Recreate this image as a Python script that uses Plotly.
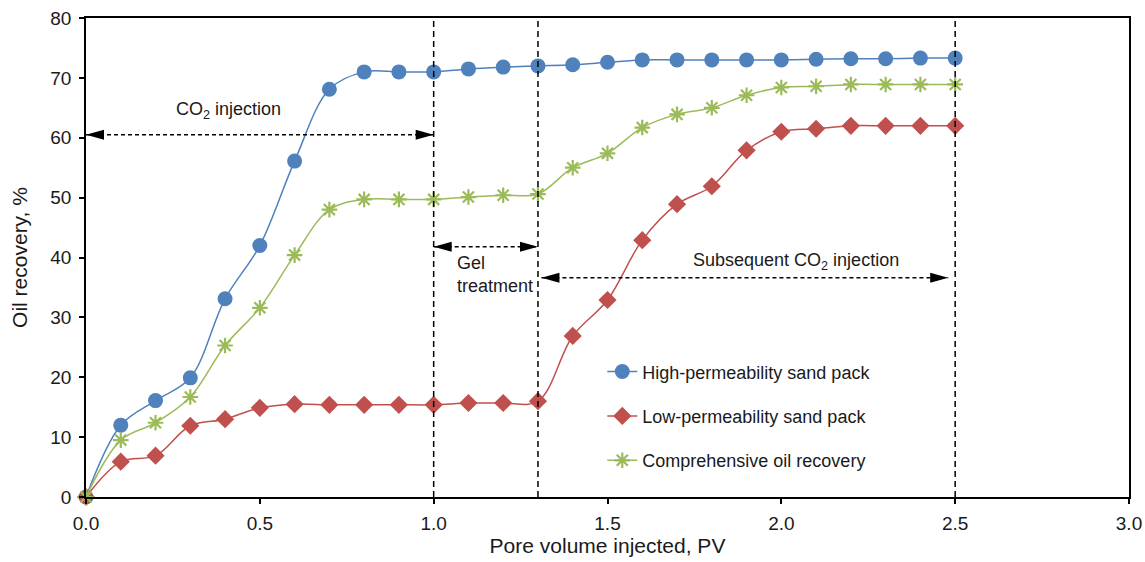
import plotly.graph_objects as go

# ---- data ----
pv = [0.0, 0.1, 0.2, 0.3, 0.4, 0.5, 0.6, 0.7, 0.8, 0.9, 1.0, 1.1, 1.2,
      1.3, 1.4, 1.5, 1.6, 1.7, 1.8, 1.9, 2.0, 2.1, 2.2, 2.3, 2.4, 2.5]
high_perm = [0, 12.0, 16.1, 19.9, 33.1, 42.0, 56.1, 68.1, 71.0, 71.0, 71.0, 71.5, 71.8,
             72.0, 72.2, 72.6, 73.0, 73.0, 73.0, 73.0, 73.0, 73.1, 73.2, 73.2, 73.3, 73.3]
low_perm = [0, 5.9, 6.9, 11.9, 13.0, 14.9, 15.5, 15.4, 15.4, 15.4, 15.4, 15.7, 15.7,
            16.0, 26.9, 32.9, 42.9, 48.9, 51.9, 57.9, 61.0, 61.5, 62.0, 62.0, 62.0, 62.0]
comprehensive = [0, 9.5, 12.4, 16.7, 25.3, 31.6, 40.4, 48.0, 49.7, 49.7, 49.7, 50.1, 50.4,
                 50.6, 55.0, 57.4, 61.7, 63.9, 65.0, 67.1, 68.4, 68.6, 68.9, 68.9, 68.9, 68.9]
series_names = ["High-permeability sand pack", "Low-permeability sand pack",
                "Comprehensive oil recovery"]
x_ticks = [0.0, 0.5, 1.0, 1.5, 2.0, 2.5, 3.0]
y_ticks = [0, 10, 20, 30, 40, 50, 60, 70, 80]

# stage boundaries (PV)
stage_bounds = [1.0, 1.3, 2.5]

FONT = "Liberation Sans, Arial, sans-serif"
TXT = "#1a1a1a"
BLUE, RED, GREEN = "#4F81BD", "#C0504D", "#9BBB59"

fig = go.Figure()
fig.add_trace(go.Scatter(x=pv, y=high_perm, name=series_names[0], mode="lines+markers",
                         line=dict(color=BLUE, width=1.5, shape="spline", smoothing=1),
                         marker=dict(symbol="circle", size=15, color=BLUE),
                         cliponaxis=False, legendgroup="a"))
fig.add_trace(go.Scatter(x=pv, y=low_perm, name=series_names[1], mode="lines+markers",
                         line=dict(color=RED, width=1.5, shape="spline", smoothing=1),
                         marker=dict(symbol="diamond", size=14, color=RED),
                         cliponaxis=False, legendgroup="b"))
fig.add_trace(go.Scatter(x=pv, y=comprehensive, name=series_names[2], mode="lines+markers",
                         line=dict(color=GREEN, width=1.5, shape="spline", smoothing=1),
                         marker=dict(symbol="asterisk-open", size=13,
                                     line=dict(color=GREEN, width=2.2)),
                         cliponaxis=False, legendgroup="c"))

shapes = []
# vertical dashed stage lines
for xb in stage_bounds:
    shapes.append(dict(type="line", xref="x", yref="y", x0=xb, x1=xb, y0=0, y1=79.6,
                       line=dict(color="black", width=1.5, dash="6px,4px")))

# dashed double arrows: (x_start, x_end, y)
arrows = [
    (0.0, 1.0, 60.5),
    (1.0, 1.3, 41.8),
    (1.31, 2.48, 36.6),
]
HEAD_L, HEAD_W = 18, 5
for xs, xe, yy in arrows:
    shapes.append(dict(type="line", xref="x", yref="y", x0=xs, x1=xe, y0=yy, y1=yy,
                       line=dict(color="black", width=1.5, dash="4px,3px")))
    shapes.append(dict(type="path", xref="x", yref="y", xsizemode="pixel",
                       ysizemode="pixel", xanchor=xs, yanchor=yy,
                       path=f"M0,0 L{HEAD_L},{HEAD_W} L{HEAD_L},{-HEAD_W} Z",
                       fillcolor="black", line=dict(color="black", width=0)))
    shapes.append(dict(type="path", xref="x", yref="y", xsizemode="pixel",
                       ysizemode="pixel", xanchor=xe, yanchor=yy,
                       path=f"M0,0 L{-HEAD_L},{HEAD_W} L{-HEAD_L},{-HEAD_W} Z",
                       fillcolor="black", line=dict(color="black", width=0)))

annotations = [
    dict(x=0.411, y=64.6, text="CO<sub>2</sub> injection", showarrow=False,
         xanchor="center", yanchor="middle"),
    dict(x=1.061, y=37.1, text="Gel<br>treatment", showarrow=False, align="left",
         xanchor="left", yanchor="middle"),
    dict(x=2.042, y=39.4, text="Subsequent CO<sub>2</sub> injection", showarrow=False,
         xanchor="center", yanchor="middle"),
]
for a in annotations:
    a.update(xref="x", yref="y", font=dict(family=FONT, size=18, color=TXT))

fig.update_layout(
    width=1145, height=562,
    margin=dict(l=86, r=16, t=18, b=65),
    paper_bgcolor="white", plot_bgcolor="white",
    font=dict(family=FONT, size=18, color=TXT),
    shapes=shapes, annotations=annotations,
    showlegend=True,
    legend=dict(x=0.495, y=0.30, xanchor="left", yanchor="top",
                bgcolor="rgba(0,0,0,0)", font=dict(family=FONT, size=18, color=TXT),
                tracegroupgap=18, itemwidth=30),
    xaxis=dict(range=[0, 3], tickvals=x_ticks, ticktext=[f"{v:.1f}" for v in x_ticks],
               showgrid=False, zeroline=False, showline=True, linecolor="black",
               linewidth=1.8, mirror=True, ticks="outside", ticklen=5, tickwidth=1.5,
               tickcolor="black", ticklabelstandoff=3, automargin=False,
               ticklabeloverflow="allow",
               tickfont=dict(family=FONT, size=19, color=TXT),
               title=dict(text="Pore volume injected, PV",
                          font=dict(family=FONT, size=21, color=TXT), standoff=6)),
    yaxis=dict(range=[0, 80], tickvals=y_ticks, showgrid=False, zeroline=False,
               showline=True, linecolor="black", linewidth=1.8, mirror=True,
               ticks="outside", ticklen=5, tickwidth=1.5, tickcolor="black",
               ticklabelstandoff=4, automargin=False, ticklabeloverflow="allow",
               tickfont=dict(family=FONT, size=19, color=TXT),
               title=dict(text="Oil recovery, %", font=dict(family=FONT, size=21, color=TXT),
                          standoff=17)),
)

# remove the page's default body margin so the figure fills the window exactly
fig.write_html("out.html", config={"displayModeBar": False},
               post_script="document.body.style.margin='0';")
